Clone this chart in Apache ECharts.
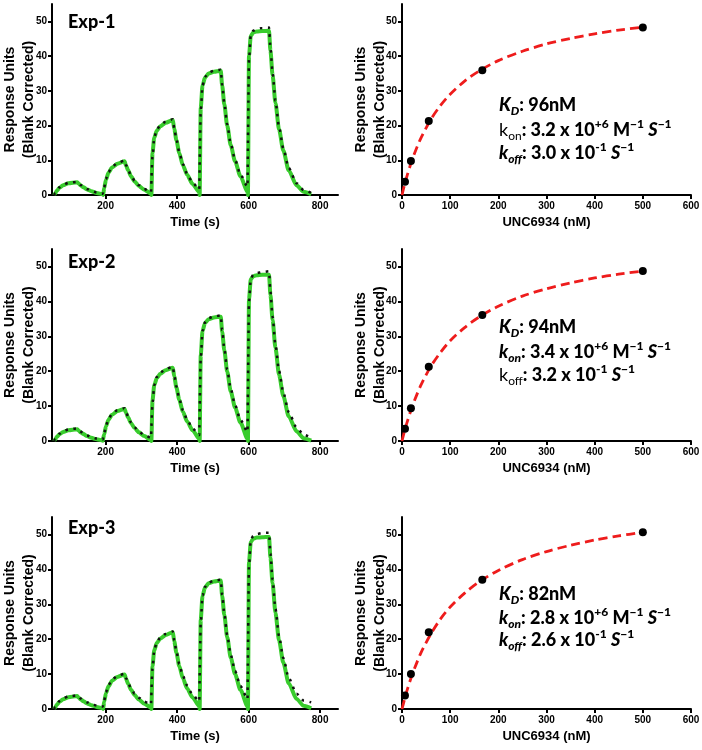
<!DOCTYPE html>
<html>
<head>
<meta charset="utf-8">
<script src="https://cdn.jsdelivr.net/npm/echarts@6/dist/echarts.min.js"></script>
<style>
html,body{margin:0;padding:0;background:#fff;}
#chart{width:702px;height:750px;}
</style>
</head>
<body>
<div id="chart"></div>
<script>
// ---------- DATA ----------
const timeS = [
  56, 59, 64, 71, 81, 96, 120, 124, 130, 138, 148, 160, 175, 192,
  193, 196, 201, 208, 218, 233, 253, 257, 263, 271, 281, 293, 308, 327,
  328, 331, 336, 343, 353, 368, 388, 392, 398, 406, 416, 428, 443, 462,
  463, 466, 471, 478, 488, 503, 522, 526, 532, 540, 550, 562, 577, 597,
  598, 601, 606, 613, 623, 638, 657, 661, 667, 675, 685, 697, 712, 734, 754, 775
];
const exp1Data = [
  0, 0.5, 1.3, 2.1, 2.8, 3.4, 3.7, 3.3, 2.8, 2.2, 1.6, 1.1, 0.6, 0.2,
  0, 2.0, 4.4, 6.4, 7.9, 9.0, 9.7, 8.5, 7.1, 5.4, 3.9, 2.6, 1.5, 0.4,
  0, 12.0, 16.5, 18.5, 19.8, 20.8, 21.6, 19.0, 15.8, 12.1, 8.6, 5.8, 3.2, 0.8,
  0, 25.0, 31.5, 33.8, 35.0, 35.5, 35.8, 31.5, 26.1, 20.0, 14.3, 9.7, 5.4, 0.8,
  0, 40.0, 45.8, 46.8, 47.1, 47.2, 47.3, 41.6, 34.5, 26.5, 18.9, 12.8, 7.1, 2.8, 0.9, 0.2
];
const exp1Fit = [
  0, 0.6, 1.4, 2.2, 2.9, 3.5, 3.8, 3.4, 2.9, 2.3, 1.7, 1.2, 0.7, 0.35,
  0.35, 2.2, 4.6, 6.6, 8.1, 9.2, 9.9, 8.7, 7.2, 5.6, 4.1, 2.8, 1.7, 0.8,
  0.8, 11.0, 16.5, 18.8, 20.2, 21.1, 21.8, 19.2, 16.0, 12.3, 8.9, 6.1, 3.6, 1.6,
  1.6, 24.0, 31.5, 34.0, 35.2, 35.8, 36.1, 31.8, 26.4, 20.4, 14.7, 10.1, 5.9, 2.4,
  2.4, 39.0, 46.0, 47.3, 47.8, 48.1, 48.2, 42.4, 35.2, 27.2, 19.6, 13.4, 7.8, 3.4, 1.4, 0.6
];
const exp2Data = [
  0, 0.5, 1.2, 1.9, 2.6, 3.1, 3.4, 3.0, 2.5, 2.0, 1.4, 0.9, 0.5, 0.1,
  0, 1.9, 4.2, 6.1, 7.5, 8.6, 9.2, 8.1, 6.7, 5.1, 3.7, 2.5, 1.4, 0.3,
  0, 11.5, 16.0, 18.0, 19.3, 20.3, 21.0, 18.5, 15.3, 11.8, 8.4, 5.6, 3.1, 0.6,
  0, 24.5, 31.5, 33.8, 34.9, 35.4, 35.6, 31.3, 26.0, 19.9, 14.2, 9.6, 5.3, 0.6,
  0, 40.5, 46.3, 47.2, 47.5, 47.6, 47.6, 41.9, 34.7, 26.7, 19.0, 12.9, 7.1, 2.8, 0.8, 0.1
];
const exp2Fit = [
  0, 0.6, 1.3, 2.1, 2.8, 3.3, 3.6, 3.2, 2.7, 2.1, 1.6, 1.1, 0.7, 0.4,
  0.4, 2.1, 4.4, 6.3, 7.8, 8.8, 9.4, 8.3, 6.9, 5.3, 3.9, 2.7, 1.7, 0.9,
  0.9, 10.5, 16.0, 18.3, 19.6, 20.6, 21.3, 18.8, 15.6, 12.1, 8.8, 6.1, 3.6, 1.7,
  1.7, 23.5, 31.5, 34.0, 35.2, 35.7, 36.0, 31.8, 26.4, 20.5, 14.9, 10.3, 6.1, 2.6,
  2.6, 39.5, 46.5, 47.6, 48.1, 48.4, 48.6, 42.8, 35.6, 27.6, 20.1, 13.9, 8.3, 3.9, 1.8, 1.0
];
const exp3Data = [
  0, 0.5, 1.3, 2.1, 2.8, 3.4, 3.7, 3.3, 2.8, 2.2, 1.6, 1.1, 0.6, 0.2,
  0, 2.1, 4.5, 6.5, 8.1, 9.2, 9.9, 8.7, 7.2, 5.5, 4.0, 2.7, 1.5, 0.4,
  0, 12.2, 16.8, 18.9, 20.2, 21.2, 22.0, 19.4, 16.1, 12.3, 8.8, 5.9, 3.3, 0.8,
  0, 25.5, 32.4, 34.8, 36.0, 36.5, 36.8, 32.4, 26.9, 20.6, 14.7, 10.0, 5.5, 0.8,
  0, 42.0, 47.8, 48.8, 49.1, 49.2, 49.3, 43.4, 36.0, 27.6, 19.7, 13.3, 7.4, 2.9, 0.9, 0.2
];
const exp3Fit = [
  0, 0.6, 1.4, 2.3, 3.0, 3.6, 3.9, 3.5, 3.0, 2.5, 1.9, 1.4, 1.0, 0.7,
  0.7, 2.4, 4.8, 6.8, 8.4, 9.5, 10.1, 8.9, 7.5, 5.9, 4.4, 3.2, 2.1, 1.3,
  1.3, 11.5, 16.8, 19.1, 20.5, 21.5, 22.2, 19.7, 16.5, 12.9, 9.5, 6.7, 4.1, 2.2,
  2.2, 24.5, 32.5, 35.0, 36.2, 36.8, 37.0, 32.7, 27.3, 21.2, 15.5, 10.9, 6.6, 2.9,
  2.9, 41.0, 48.5, 49.6, 50.1, 50.4, 50.5, 44.5, 37.0, 28.7, 20.9, 14.6, 8.9, 4.4, 2.4, 1.9
];

const concNM = [6.17, 18.5, 55.6, 166.7, 500];
const exp1Resp = [3.8, 9.8, 21.3, 35.9, 48.2];
const exp2Resp = [3.5, 9.4, 21.3, 36.1, 48.7];
const exp3Resp = [3.9, 10.0, 22.0, 37.0, 50.6];

const curveConc = [0, 5, 10, 20, 30, 40, 60, 80, 100, 130, 160, 200, 250, 300, 350, 400, 450, 500];
const exp1Curve = [0, 2.8, 5.3, 9.7, 13.4, 16.6, 21.8, 25.8, 29.0, 32.8, 35.7, 38.7, 41.4, 43.5, 45.1, 46.4, 47.5, 48.3];
const exp2Curve = [0, 2.7, 5.1, 9.4, 13.0, 16.2, 21.4, 25.4, 28.7, 32.5, 35.5, 38.6, 41.5, 43.6, 45.3, 46.7, 47.8, 48.7];
const exp3Curve = [0, 2.6, 5.1, 9.4, 13.0, 16.3, 21.5, 25.8, 29.2, 33.2, 36.4, 39.7, 42.8, 45.1, 46.9, 48.4, 49.6, 50.6];

const yTicks = [0, 10, 20, 30, 40, 50];
const timeTicks = [200, 400, 600, 800];
const concTicks = [0, 100, 200, 300, 400, 500, 600];

const expNames = ['Exp-1', 'Exp-2', 'Exp-3'];
const kdText = ['96nM', '94nM', '82nM'];
const konText = ['3.2', '3.4', '2.8'];
const koffText = ['3.0', '3.2', '2.6'];
const konBoldItalic = [false, true, true];
const koffBoldItalic = [true, false, true];

const yTitle = 'Response Units\n(Blank Corrected)';
const timeTitle = 'Time (s)';
const concTitle = 'UNC6934 (nM)';

// ---------- LAYOUT ----------
const AX = 'Liberation Sans, Arial, sans-serif';
const CAL = 'Lato, Open Sans, sans-serif';
const HEAVY = 900;
const rowTops = [4, 249, 517];
const rowHeights = [191, 192, 192];
const expLabelTop = [13, 253, 519];
const annTop = [[96, 118, 141], [318, 340, 363], [585, 606, 628]];

const sensData = [exp1Data, exp2Data, exp3Data];
const sensFit = [exp1Fit, exp2Fit, exp3Fit];
const respData = [exp1Resp, exp2Resp, exp3Resp];
const curveData = [exp1Curve, exp2Curve, exp3Curve];

const grids = [], xAxes = [], yAxes = [], series = [], graphics = [];

const axisCommon = {
  axisLine: { show: true, onZero: false, lineStyle: { color: '#000', width: 2 } },
  axisTick: { show: true, length: 4, lineStyle: { color: '#000', width: 2 } },
  splitLine: { show: false },
};

for (let r = 0; r < 3; r++) {
  for (let c = 0; c < 2; c++) {
    const gi = r * 2 + c;
    grids.push({
      left: c === 0 ? 52 : 402, top: rowTops[r],
      width: c === 0 ? 286 : 289, height: rowHeights[r],
      outerBoundsMode: 'none'
    });
    if (c === 0) {
      xAxes.push(Object.assign({}, axisCommon, {
        type: 'value', gridIndex: gi, min: 50, max: 850,
        axisTick: Object.assign({}, axisCommon.axisTick, { customValues: timeTicks }),
        axisLabel: { customValues: timeTicks, color: '#000', fontFamily: AX, fontWeight: 'bold', fontSize: 10, margin: 6 },
        name: timeTitle, nameLocation: 'middle', nameGap: 21, nameMoveOverlap: false,
        nameTextStyle: { color: '#000', fontFamily: AX, fontWeight: 'bold', fontSize: 13 }
      }));
    } else {
      xAxes.push(Object.assign({}, axisCommon, {
        type: 'value', gridIndex: gi, min: 0, max: 600, interval: 100,
        axisTick: Object.assign({}, axisCommon.axisTick, { customValues: concTicks }),
        axisLabel: { customValues: concTicks, color: '#000', fontFamily: AX, fontWeight: 'bold', fontSize: 10, margin: 6 },
        name: concTitle, nameLocation: 'middle', nameGap: 21, nameMoveOverlap: false,
        nameTextStyle: { color: '#000', fontFamily: AX, fontWeight: 'bold', fontSize: 13 }
      }));
    }
    yAxes.push(Object.assign({}, axisCommon, {
      type: 'value', gridIndex: gi, min: 0, max: 55,
      axisTick: Object.assign({}, axisCommon.axisTick, { customValues: yTicks }),
      axisLabel: { customValues: yTicks, color: '#000', fontFamily: AX, fontWeight: 'bold', fontSize: 10, margin: 5 },
      name: yTitle, nameLocation: 'middle', nameGap: c === 0 ? 13.5 : 12.5, nameMoveOverlap: false,
      nameTextStyle: { color: '#000', fontFamily: AX, fontWeight: 'bold', fontSize: 14, lineHeight: 19 }
    }));

    if (c === 0) {
      series.push({
        type: 'line', xAxisIndex: gi, yAxisIndex: gi,
        data: timeS.map((t, j) => [t, sensData[r][j]]),
        showSymbol: false, smooth: 0.25, smoothMonotone: 'x',
        lineStyle: { color: '#38cc2c', width: 4 }, z: 2
      });
      series.push({
        type: 'line', xAxisIndex: gi, yAxisIndex: gi,
        data: timeS.map((t, j) => [t, sensFit[r][j]]),
        showSymbol: false, smooth: 0.25, smoothMonotone: 'x',
        lineStyle: { color: '#111', width: 2.5, type: [2.5, 5.5] }, z: 3
      });
    } else {
      series.push({
        type: 'line', xAxisIndex: gi, yAxisIndex: gi,
        data: curveConc.map((x, j) => [x, curveData[r][j]]),
        showSymbol: false, smooth: 0.3,
        lineStyle: { color: '#ee1c1c', width: 2.8, type: [9, 5] }, z: 2
      });
      series.push({
        type: 'scatter', xAxisIndex: gi, yAxisIndex: gi,
        data: concNM.map((x, j) => [x, respData[r][j]]),
        symbol: 'circle', symbolSize: 8,
        itemStyle: { color: '#000', opacity: 1 }, z: 3
      });
    }
  }

  graphics.push({
    type: 'text', left: 68, top: expLabelTop[r],
    style: { text: expNames[r], fontFamily: CAL, fontWeight: HEAVY, fontSize: 18, fill: '#000' }
  });

  const main = 18, small = 12, LH = 24;
  const rich = {
    bi: { fontFamily: CAL, fontWeight: HEAVY, fontStyle: 'italic', fontSize: main, lineHeight: LH, fill: '#000' },
    b: { fontFamily: CAL, fontWeight: HEAVY, fontSize: main, lineHeight: LH, fill: '#000' },
    n: { fontFamily: CAL, fontWeight: 'normal', fontSize: main, lineHeight: LH, fill: '#000' },
    subBI: { fontFamily: CAL, fontWeight: HEAVY, fontStyle: 'italic', fontSize: small, lineHeight: 14, verticalAlign: 'bottom', fill: '#000' },
    subN: { fontFamily: CAL, fontWeight: 'normal', fontSize: small, lineHeight: 14, verticalAlign: 'bottom', fill: '#000' },
    sup: { fontFamily: CAL, fontWeight: HEAVY, fontSize: small, lineHeight: 14, verticalAlign: 'top', fill: '#000' }
  };
  const kon = konBoldItalic[r] ? '{bi|k}{subBI|on}' : '{n|k}{subN|on}';
  const koff = koffBoldItalic[r] ? '{bi|k}{subBI|off}' : '{n|k}{subN|off}';
  const lines = [
    '{bi|K}{subBI|D}{b|: ' + kdText[r] + '}',
    kon + '{b|: ' + konText[r] + ' x 10}{sup|+6}{b| M}{sup|\u22121}{b| }{bi|S}{sup|\u22121}',
    koff + '{b|: ' + koffText[r] + ' x 10}{sup|-1}{b| }{bi|S}{sup|\u22121}'
  ];
  lines.forEach((txt, k) => {
    graphics.push({
      type: 'text', left: 499, top: annTop[r][k],
      style: { text: txt, rich: rich, fill: '#000', fontFamily: CAL, fontWeight: HEAVY, fontSize: 18 }
    });
  });
}

const chart = echarts.init(document.getElementById('chart'), null, { renderer: 'canvas' });
chart.setOption({
  animation: false,
  backgroundColor: '#fff',
  grid: grids,
  xAxis: xAxes,
  yAxis: yAxes,
  series: series,
  graphic: graphics
});
</script>
</body>
</html>
